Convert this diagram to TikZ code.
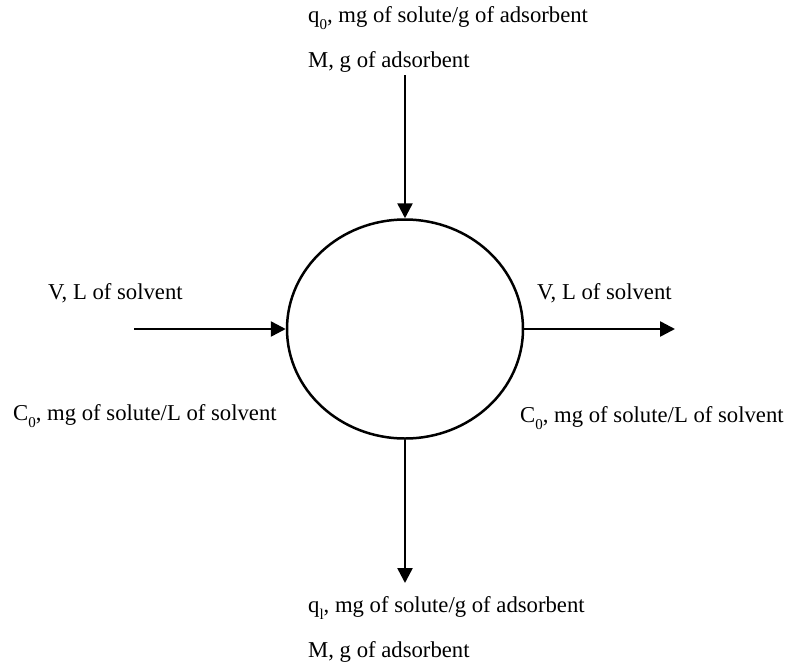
\documentclass[tikz,border=0pt]{standalone}
\usepackage{fontspec}
\setmainfont{Liberation Serif}
\usetikzlibrary{arrows.meta,shapes.geometric}
\newcommand{\lowsub}[1]{\raisebox{-0.3em}{\fontsize{15}{15}\selectfont #1}}
\begin{document}
\begin{tikzpicture}[x=1pt,y=-1pt,
  lbl/.style={anchor=west,inner sep=0pt,font=\fontsize{22.7}{27}\selectfont},
  flow/.style={line width=2.5pt,-{Triangle[length=15pt,width=15pt]}}]
\useasboundingbox (0,0) rectangle (787,670);
\node[draw,line width=2.5pt,ellipse,minimum width=236pt,minimum height=219pt,inner sep=0pt] (tank) at (405,329) {};
\coordinate (topin) at (405,75);
\coordinate (leftin) at (134,329);
\coordinate (rightout) at (675,329);
\coordinate (botout) at (405,583);
\draw[flow] (topin) -- (tank.north);
\draw[flow] (leftin) -- (tank.west);
\draw[flow] (tank.east) -- (rightout);
\draw[flow] (tank.south) -- (botout);
\node[lbl] (t1) at (308,18) {q\lowsub{0}, mg of solute/g of adsorbent};
\node[lbl] (t2) at (308,62) {M, g of adsorbent};
\node[lbl] (l1) at (48,293) {V, L of solvent};
\node[lbl] (l2) at (13,416) {C\lowsub{0}, mg of solute/L of solvent};
\node[lbl] (r1) at (537,293) {V, L of solvent};
\node[lbl] (r2) at (520,418) {C\lowsub{0}, mg of solute/L of solvent};
\node[lbl] (b1) at (308,608) {q\lowsub{l}, mg of solute/g of adsorbent};
\node[lbl] (b2) at (308,652) {M, g of adsorbent};
\end{tikzpicture}
\end{document}
